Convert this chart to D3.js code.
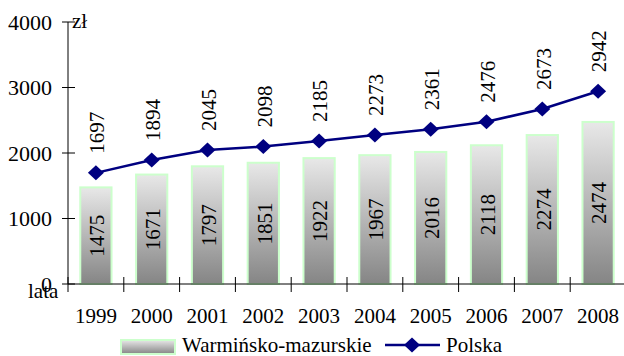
<!DOCTYPE html>
<html><head><meta charset="utf-8">
<script src="https://cdn.jsdelivr.net/npm/d3@7/dist/d3.min.js"></script>
<style>body{margin:0;background:#fff}svg{display:block}text{font-family:"Liberation Serif";fill:#000}</style>
</head><body><svg id="c" width="624" height="356"></svg>
<script>
const years = ["1999","2000","2001","2002","2003","2004","2005","2006","2007","2008"];
const warminsko = [1475,1671,1797,1851,1922,1967,2016,2118,2274,2474];
const polska = [1697,1894,2045,2098,2185,2273,2361,2476,2673,2942];
const yTicks = [0,1000,2000,3000,4000];
const seriesNames = ["Warmińsko-mazurskie","Polska"];

const svg = d3.select("#c");
const fs = 21;
const x = d3.scaleBand().domain(years).range([68,626]);
const y = d3.scaleLinear().domain([0,4000]).range([284,22]);

const defs = svg.append("defs");
const g = defs.append("linearGradient").attr("id","bg").attr("x1",0).attr("y1",0).attr("x2",0).attr("y2",1);
g.append("stop").attr("offset","0%").attr("stop-color","#e8e8e8");
g.append("stop").attr("offset","100%").attr("stop-color","#858585");

// bars
const bw = x.bandwidth()*0.56;
svg.selectAll("rect.bar").data(years).enter().append("rect")
  .attr("x",d=>x(d)+(x.bandwidth()-bw)/2)
  .attr("y",(d,i)=>y(warminsko[i]))
  .attr("width",bw)
  .attr("height",(d,i)=>y(0)-y(warminsko[i]))
  .attr("fill","url(#bg)").attr("stroke","#ccffcc").attr("stroke-width",2);

// axes
svg.append("line").attr("x1",68).attr("x2",68).attr("y1",y(4000)).attr("y2",y(0)).attr("stroke","#000");
svg.append("line").attr("x1",68).attr("x2",626).attr("y1",y(0)).attr("y2",y(0)).attr("stroke","#000");
yTicks.forEach(t=>{
  svg.append("line").attr("x1",62).attr("x2",75).attr("y1",y(t)).attr("y2",y(t)).attr("stroke","#000");
  svg.append("text").attr("x",52).attr("y",y(t)).attr("dy","0.35em").attr("text-anchor","end").attr("font-size",22).text(t);
});
const bounds = years.map(d=>x(d)).concat([x.range()[1]]);
bounds.forEach(b=>{
  svg.append("line").attr("x1",b).attr("x2",b).attr("y1",y(0)-7).attr("y2",y(0)+8).attr("stroke","#000");
});
svg.selectAll("text.yr").data(years).enter().append("text")
  .attr("x",d=>x(d)+x.bandwidth()/2).attr("y",323).attr("text-anchor","middle").attr("font-size",fs).text(d=>d);
svg.append("text").attr("x",72).attr("y",28).attr("font-size",fs).text("zł");
svg.append("text").attr("x",28).attr("y",298).attr("font-size",fs).text("lata");

// bar labels
svg.selectAll("text.bl").data(years).enter().append("text")
  .attr("transform",(d,i)=>`translate(${x(d)+x.bandwidth()/2+1},${(y(warminsko[i])+y(0))/2}) rotate(-90)`)
  .attr("text-anchor","middle").attr("dy","0.35em").attr("font-size",fs).text((d,i)=>warminsko[i]);

// line
const cx = d=>x(d)+x.bandwidth()/2;
svg.append("path").datum(years).attr("fill","none").attr("stroke","#000080").attr("stroke-width",2.5)
  .attr("d",d3.line().x(cx).y((d,i)=>y(polska[i])));
const diamond = "M0,-7.5L8,0L0,7.5L-8,0Z";
svg.selectAll("path.pt").data(years).enter().append("path")
  .attr("transform",(d,i)=>`translate(${cx(d)},${y(polska[i])})`).attr("d",diamond).attr("fill","#000080");
svg.selectAll("text.pl").data(years).enter().append("text")
  .attr("transform",(d,i)=>`translate(${cx(d)+1},${y(polska[i])-19}) rotate(-90)`)
  .attr("dy","0.35em").attr("font-size",fs).text((d,i)=>polska[i]);

// legend
svg.append("rect").attr("x",121).attr("y",340).attr("width",54).attr("height",14)
  .attr("fill","url(#bg)").attr("stroke","#ccffcc").attr("stroke-width",2);
svg.append("text").attr("x",182).attr("y",352).attr("font-size",fs).text(seriesNames[0]);
svg.append("line").attr("x1",385).attr("x2",440).attr("y1",345).attr("y2",345).attr("stroke","#000080").attr("stroke-width",2.5);
svg.append("path").attr("transform","translate(412,345)").attr("d",diamond).attr("fill","#000080");
svg.append("text").attr("x",446).attr("y",352).attr("font-size",fs).text(seriesNames[1]);
</script></body></html>
